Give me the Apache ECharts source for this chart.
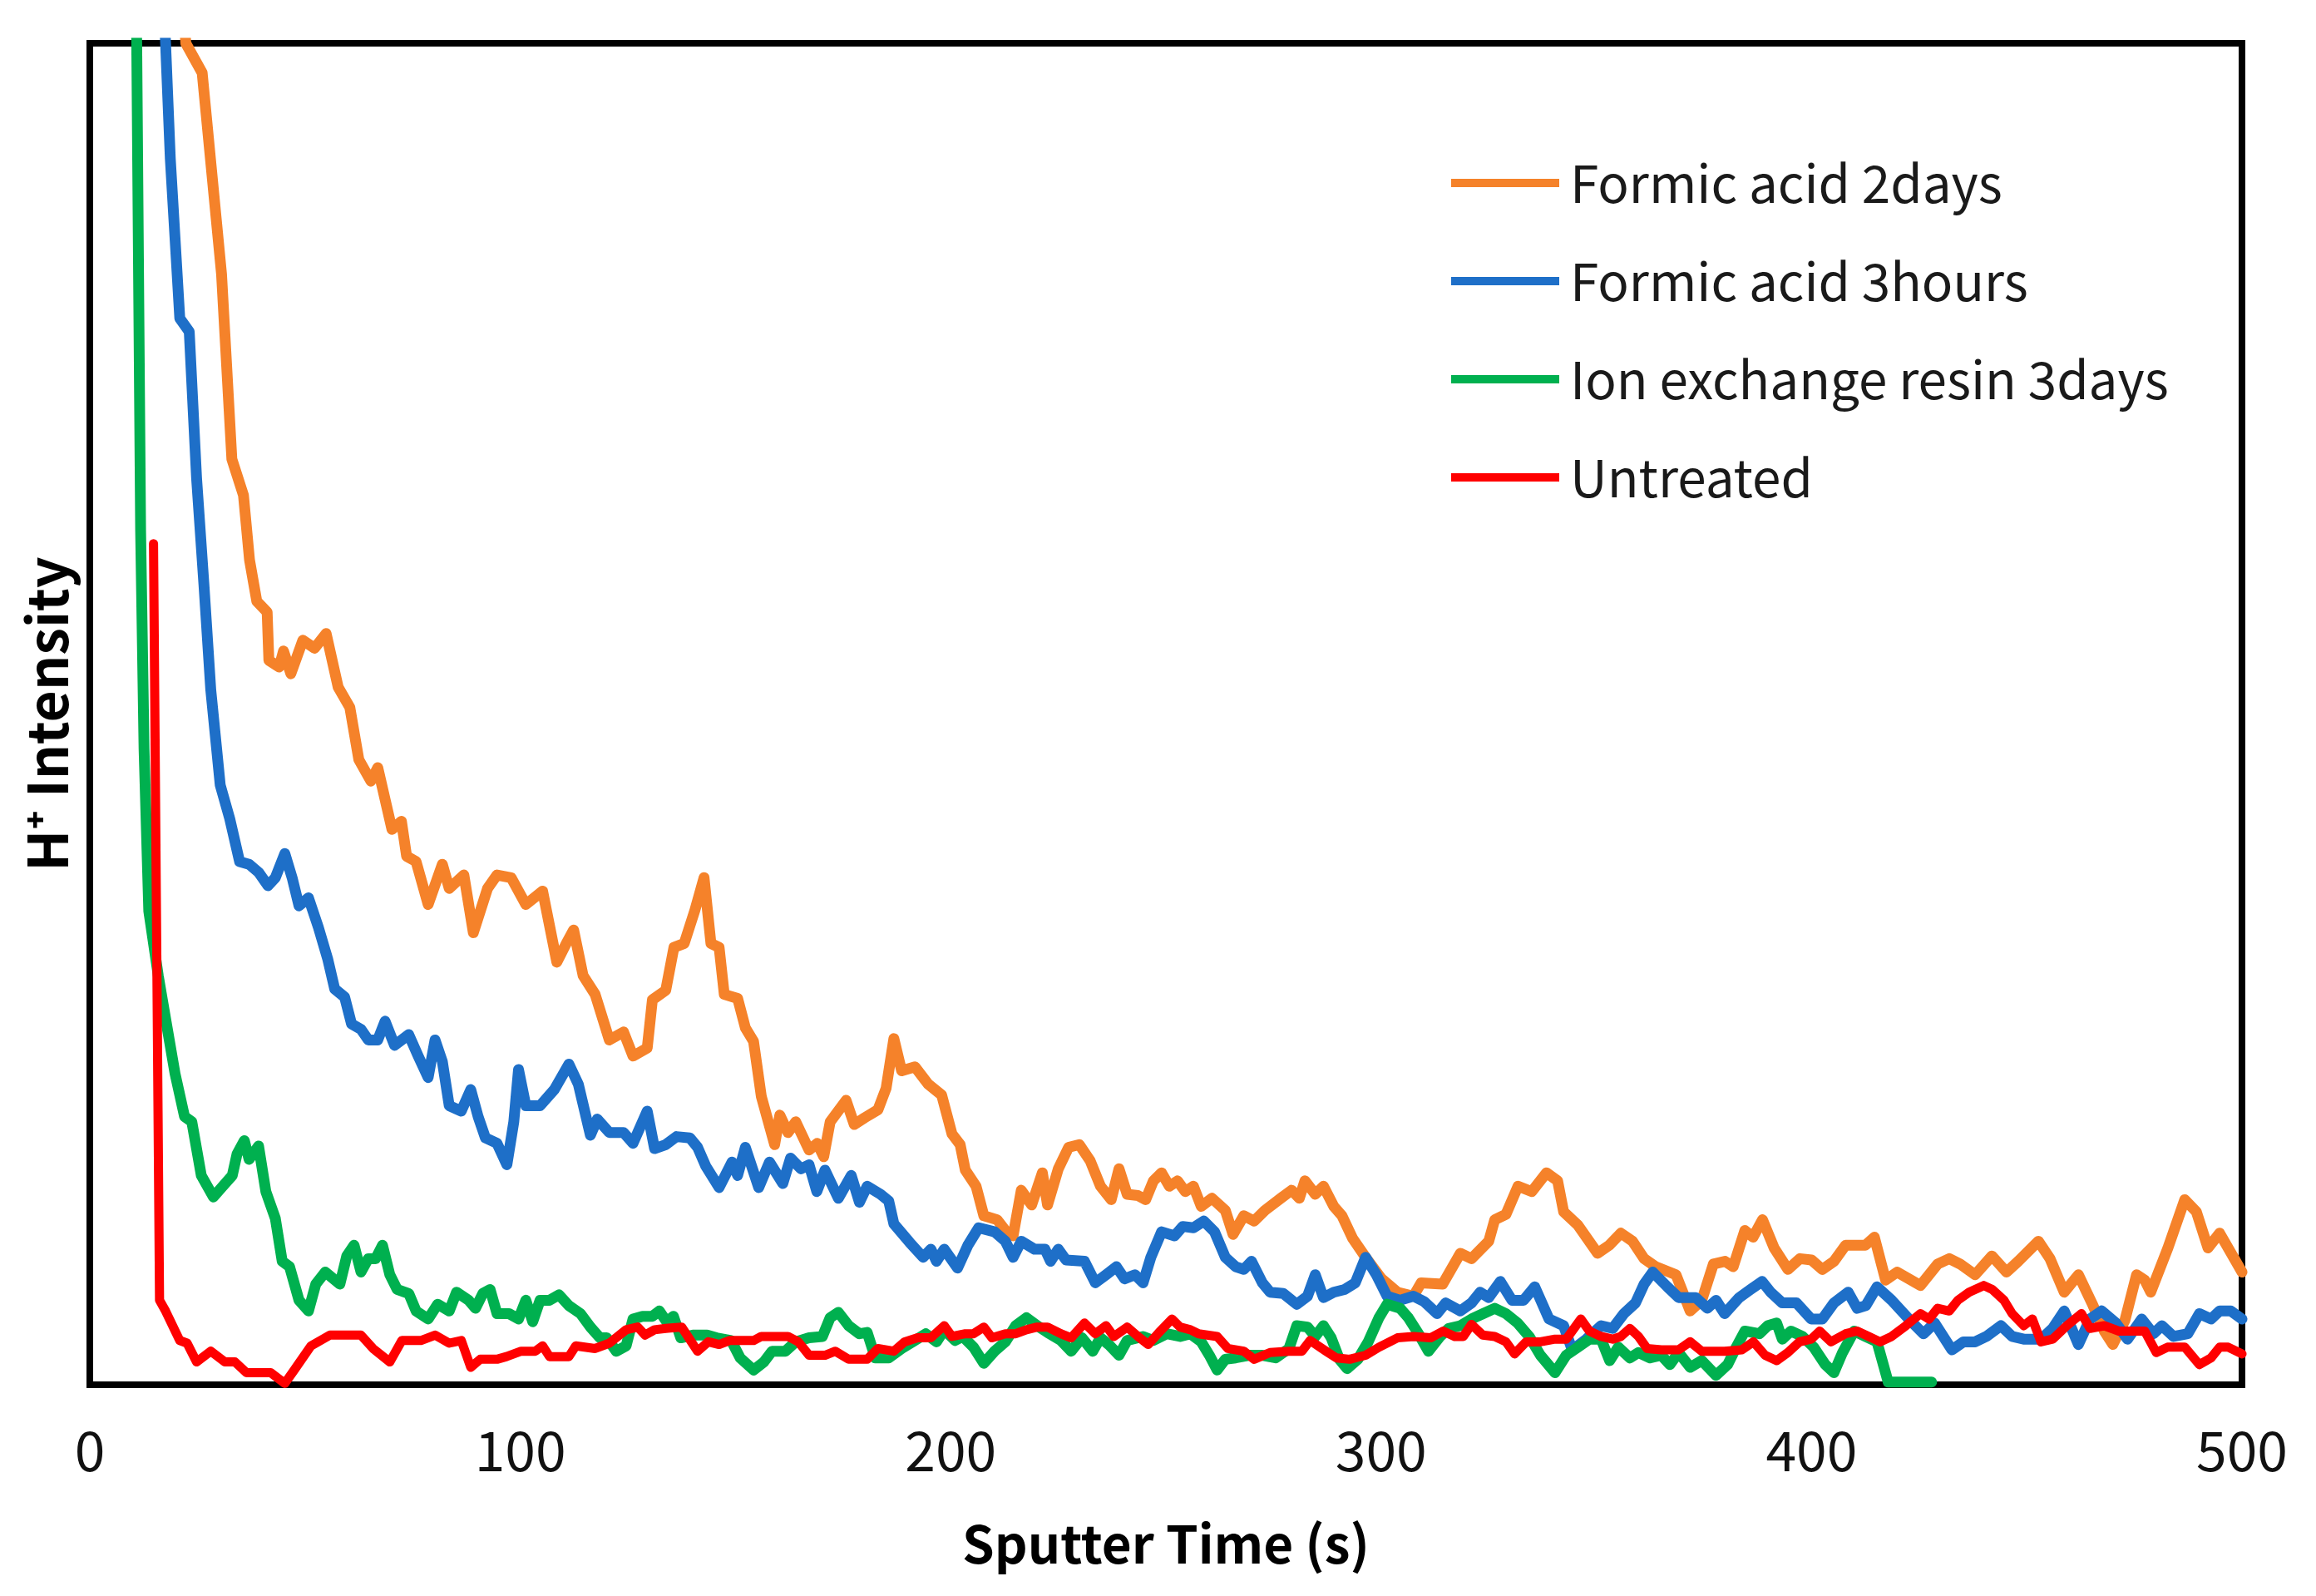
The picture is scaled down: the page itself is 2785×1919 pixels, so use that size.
<!DOCTYPE html>
<html>
<head>
<meta charset="utf-8">
<script src="https://cdn.jsdelivr.net/npm/echarts@6/dist/echarts.min.js"></script>
<style>
html,body{margin:0;padding:0;background:#fff;}
#chart{width:2785px;height:1919px;}
</style>
</head>
<body>
<div id="chart"></div>
<script>
// ---- Data (y is relative intensity, 0-100 of the plotted range) ----
const seriesNames = ['Formic acid 2days', 'Formic acid 3hours', 'Ion exchange resin 3days', 'Untreated'];
const xTickLabels = ['0', '100', '200', '300', '400', '500'];

const fa2dTime = [20,22.3,26.1,30.6,33.0,35.7,37.1,38.8,41.2,41.6,44.0,45.0,46.7,49.5,52.2,54.9,57.7,60.4,62.5,65.3,66.9,70.2,72.4,73.6,75.8,78.6,81.9,83.5,86.9,89.1,92.4,94.6,97.9,101.3,105.2,108.5,110.7,112.4,114.6,117.4,120.7,124.0,126.2,129.5,130.7,133.8,135.7,138.1,140.6,142.7,144.3,146.2,147.4,150.5,152.3,154.2,156.0,159.1,160.3,162.2,164.0,167.1,169.0,170.5,172.0,175.7,177.6,180.0,183.1,185.0,186.8,188.6,191.7,194.8,197.9,200.3,202.2,203.4,205.9,207.7,210.8,212.7,214.5,216.4,218.8,221.3,222.5,225.0,227.4,229.9,232.4,234.8,237.3,239.1,241.0,243.5,245.3,247.1,249.0,250.8,252.7,254.5,256.4,258.2,260.7,263.8,265.6,268.1,270.5,273.0,276.7,279.2,281.0,282.3,284.7,286.6,289.0,290.9,293.4,296.4,300.1,303.8,307.5,309.3,314.3,318.4,321.0,325.0,326.4,329.0,331.8,335.0,338.4,341.0,342.4,345.7,350.3,353.0,355.7,358.4,361.1,363.8,368.5,371.8,374.5,377.2,379.9,381.8,384.5,386.4,388.6,391.3,394.5,397.3,400.0,402.5,405.2,407.9,412.5,414.6,417.2,419.9,425.3,429.3,432.0,434.5,438.0,441.9,445.3,448.0,452.7,455.4,458.7,462.0,465.4,468.0,470.0,472.8,475.5,477.4,478.8,482.8,486.7,489.4,492.1,494.8,497.5,500];
const fa2dIntensity = [112,100,97.8,82.8,69.0,66.3,61.5,58.4,57.6,54.0,53.5,54.7,53.0,55.5,54.9,56.0,52.0,50.5,46.6,45.0,46.0,41.4,42.0,39.4,39.0,35.8,38.8,37.0,38.0,33.7,37.0,38.0,37.8,35.8,36.8,31.5,32.9,33.9,30.5,29.1,25.7,26.3,24.5,25.1,28.7,29.4,32.6,32.9,35.4,37.8,32.9,32.6,29.1,28.8,26.6,25.6,21.5,17.9,20.1,18.8,19.6,17.5,18.0,17.0,19.6,21.2,19.4,19.9,20.5,22.1,25.8,23.4,23.7,22.4,21.6,18.7,17.9,16.0,14.8,12.6,12.3,11.5,11.1,14.5,13.4,15.8,13.4,16.1,17.7,17.9,16.7,14.8,13.8,16.1,14.2,14.1,13.8,15.2,15.8,14.8,15.2,14.4,14.8,13.3,13.9,13.0,11.2,12.6,12.2,13.0,13.9,14.5,13.9,15.2,14.2,14.8,13.3,12.6,10.9,9.5,7.9,6.9,6.6,7.6,7.5,9.8,9.4,10.7,12.3,12.7,14.8,14.4,15.8,15.2,12.9,11.9,9.8,10.4,11.3,10.7,9.4,8.8,8.2,5.5,6.3,9.0,9.2,8.8,11.5,11.0,12.3,10.2,8.6,9.4,9.3,8.6,9.2,10.4,10.4,11.0,7.8,8.4,7.4,9.0,9.4,9.0,8.2,9.6,8.4,9.2,10.7,9.4,6.9,8.2,5.9,4.0,3.0,4.8,8.2,7.8,6.9,10.2,13.8,12.9,10.2,11.3,9.8,8.4];

const fa3hTime = [16,17.6,18.7,20.9,23.1,24.8,26.5,28.1,30.3,32.5,34.8,37.0,39.2,41.4,43.1,45.3,47.0,48.6,50.8,53.1,55.3,56.9,59.2,60.8,63.0,64.7,66.9,68.6,70.8,74.1,76.3,78.6,80.2,81.9,83.5,86.3,88.5,90.2,91.9,94.6,96.9,98.5,99.6,101.3,104.6,107.9,111.3,113.5,116.3,117.9,120.7,124.0,126.2,129.5,131.2,133.8,136.3,139.4,141.2,143.1,146.2,149.2,150.5,152.3,155.4,157.9,161.0,162.8,165.2,167.1,168.9,170.8,173.9,176.9,178.8,180.6,183.7,185.6,186.8,190.5,193.6,195.4,196.7,198.5,201.6,204.0,206.5,210.2,212.7,214.5,216.4,219.5,221.9,223.2,225.0,226.8,231.1,233.6,236.1,238.5,240.4,242.8,244.7,246.5,249.0,252.0,253.9,256.4,258.8,261.3,263.8,266.2,268.1,269.9,272.4,274.2,277.3,280.4,282.9,284.7,286.6,289.0,291.5,294.0,296.4,298.9,301.4,304.4,307.5,310.0,313.0,315.0,318.4,321.0,323.0,325.0,327.7,330.4,333.1,335.7,339.0,342.4,344.4,347.7,351.1,353.8,356.4,359.1,361.1,363.1,366.5,369.1,373.1,375.8,377.8,379.8,383.2,385.8,388.5,390.5,393.2,396.5,399.9,402.5,405.2,408.5,410.6,412.6,415.2,418.6,422.6,426.0,428.6,432.6,435.3,438.0,440.6,444.0,446.6,449.3,453.3,456.0,458.7,462.0,464.7,467.4,470.7,473.4,476.7,479.4,481.4,484.1,487.4,490.1,492.8,494.8,497.4,500];
const fa3hIntensity = [112,100,91.4,79.5,78.5,67.6,59.7,51.8,44.7,42.2,39.0,38.8,38.2,37.2,37.8,39.6,37.8,35.7,36.3,34.1,31.7,29.5,28.9,26.9,26.5,25.7,25.7,27.1,25.3,26.1,24.5,22.9,25.7,24.1,20.8,20.4,22.0,20.0,18.4,18.0,16.4,19.6,23.5,20.8,20.8,22.0,23.9,22.4,18.6,19.8,18.8,18.8,18.0,20.4,17.6,17.9,18.5,18.4,17.7,16.3,14.7,16.6,15.6,17.7,14.7,16.6,15.0,16.9,16.1,16.4,14.4,16.0,13.9,15.6,13.6,14.8,14.2,13.7,12.0,10.6,9.5,10.1,9.2,10.1,8.7,10.4,11.7,11.4,10.7,9.5,10.7,10.1,10.1,9.2,10.1,9.3,9.2,7.6,8.2,8.8,7.9,8.2,7.6,9.5,11.4,11.1,11.8,11.7,12.2,11.4,9.5,8.8,8.6,9.2,7.6,6.9,6.8,6.0,6.6,8.2,6.5,6.9,7.1,7.6,9.5,8.2,6.6,6.3,6.6,6.2,5.3,6.1,5.5,6.1,6.9,6.5,7.7,6.3,6.3,7.3,4.9,4.4,2.6,3.4,4.4,4.2,5.3,6.1,7.5,8.4,7.3,6.5,6.5,5.7,6.3,5.3,6.5,7.1,7.7,6.9,6.1,6.1,4.9,4.9,6.1,6.9,5.7,5.9,7.3,6.3,4.9,3.8,4.6,2.6,3.2,3.2,3.6,4.4,3.6,3.4,3.4,4.2,5.5,3.0,4.9,5.5,4.6,3.4,4.9,3.8,4.4,3.6,3.8,5.3,4.9,5.5,5.5,4.9];

const ionTime = [10,10.9,11.8,12.6,13.7,15.9,17.6,19.8,22.0,23.7,25.9,28.7,30.9,33.1,34.2,35.9,37.0,39.2,40.9,43.1,44.7,46.4,48.6,50.8,52.5,54.7,58.1,59.7,61.4,63.0,64.7,66.4,68.0,69.7,71.4,74.1,75.8,78.6,80.8,83.5,85.2,88.0,89.6,91.3,93.0,94.6,97.4,99.6,101.3,102.9,104.6,106.8,109.0,111.3,114.0,116.3,118.5,120.1,122.3,124.6,126.2,128.4,130.7,132.3,134.0,135.6,137.3,140.1,143.4,145.6,149.0,151.1,154.2,156.6,158.5,161.6,164.0,167.1,170.2,172.0,173.9,176.3,178.8,180.6,182.5,185.6,188.6,191.7,194.2,196.7,198.5,201.0,202.8,205.3,207.7,210.2,212.7,215.1,217.6,220.1,222.5,225.6,228.0,230.5,233.0,234.8,236.7,239.1,241.0,244.7,247.1,250.2,253.3,255.7,258.2,260.1,261.9,263.8,266.2,269.3,272.4,275.5,278.6,280.4,282.9,284.7,286.6,288.4,290.3,292.1,294.6,297.0,299.5,301.4,304.4,306.3,308.7,311.0,313.7,315.7,318.4,321.0,323.7,326.4,329.0,331.7,334.4,337.0,340.4,343.0,345.7,348.4,351.1,353.1,355.1,357.8,359.8,362.5,365.1,367.1,369.1,371.8,374.5,377.8,380.5,382.5,384.5,387.9,389.8,391.9,393.2,395.2,397.9,400.5,403.2,405.2,407.2,409.9,412.5,415.2,417.8,427.9];
const ionIntensity = [120,100,63.7,47.4,35.3,30.5,27.3,23.2,20.0,19.6,15.6,14.0,14.8,15.6,17.2,18.2,16.8,17.8,14.4,12.4,9.2,8.8,6.3,5.5,7.5,8.4,7.5,9.6,10.4,8.4,9.4,9.4,10.4,8.2,7.1,6.8,5.5,4.9,6.0,5.5,6.9,6.3,5.7,6.8,7.1,5.3,5.3,4.9,6.3,4.7,6.3,6.3,6.7,5.9,5.3,4.3,3.5,3.5,2.5,2.9,4.9,5.1,5.1,5.5,4.7,5.1,3.5,3.7,3.7,3.5,3.3,2.0,1.1,1.7,2.5,2.5,3.2,3.5,3.6,5.0,5.4,4.4,3.8,3.9,2.0,2.0,2.7,3.3,3.8,3.2,4.1,3.3,3.6,2.8,1.6,2.5,3.2,4.4,5.0,4.4,3.9,3.3,2.5,3.5,2.5,3.5,3.0,2.2,3.3,3.6,3.3,3.8,3.6,3.8,3.2,2.2,1.1,1.9,2.0,2.2,2.2,2.0,2.7,4.4,4.3,3.6,4.4,3.5,1.9,1.2,1.9,3.2,5.0,6.0,5.7,5.0,3.8,2.5,3.6,4.2,4.4,4.9,5.3,5.7,5.3,4.6,3.6,2.2,0.9,2.2,2.8,3.4,3.4,1.8,2.8,2.0,2.4,2.0,2.2,1.5,2.4,1.3,1.8,0.7,1.5,2.8,4.0,3.8,4.4,4.6,3.4,4.0,3.6,2.8,1.5,0.9,2.4,4.0,3.6,3.2,0.2,0.2];

const untreatedTime = [14.8,16.2,17.6,20.9,22.6,24.8,28.1,31.4,33.7,36.4,42.0,45.3,47.5,51.4,55.8,63.0,65.8,69.7,72.5,76.9,80.2,83.5,86.3,88.5,90.7,94.6,96.8,100.2,103.5,105.2,106.8,111.3,112.9,117.4,120.7,124.6,127.3,129.0,131.2,133.8,137.5,141.2,143.7,146.2,148.6,154.2,156.0,162.2,164.6,167.1,170.8,173.2,176.3,180.6,183.1,186.8,189.3,192.3,195.4,198.5,200.3,203.4,205.3,207.7,209.6,212.7,215.1,217.6,220.1,222.5,225.6,228.0,231.1,233.6,236.1,237.9,241.0,243.5,245.9,248.4,251.4,253.3,255.7,257.6,261.9,264.4,268.1,270.5,274.2,278.6,281.6,283.5,287.2,289.6,292.7,296.4,299.5,303.8,307.5,311.5,314.4,317.1,319.1,321.0,323.6,326.4,329.0,331.0,333.7,337.0,340.4,343.0,346.4,348.4,351.1,353.8,355.7,357.8,359.8,361.8,365.1,369.1,371.8,374.5,379.8,383.8,386.5,389.2,391.9,394.5,397.2,399.9,401.9,404.5,407.9,410.6,413.3,415.9,418.6,421.9,425.3,427.3,429.3,432.0,434.0,436.6,440.0,442.0,444.7,446.6,449.3,451.3,453.3,456.0,459.3,462.7,464.7,468.0,471.4,474.7,477.4,480.1,482.7,486.7,490.1,492.8,494.8,496.8,500];
const untreatedIntensity = [62.7,6.3,5.5,3.3,3.1,1.7,2.5,1.7,1.7,0.9,0.9,0.1,1.1,2.9,3.7,3.7,2.7,1.7,3.3,3.3,3.7,3.1,3.3,1.3,1.9,1.9,2.1,2.5,2.5,2.9,2.1,2.1,2.9,2.7,3.1,4.1,4.3,3.7,4.1,4.2,4.3,2.5,3.2,3.0,3.3,3.3,3.6,3.6,3.2,2.2,2.2,2.5,1.9,1.9,2.7,2.5,3.2,3.5,3.5,4.4,3.6,3.8,3.8,4.3,3.5,3.8,3.8,4.1,4.3,4.3,3.8,3.5,4.6,3.8,4.4,3.6,4.3,3.6,3.0,3.9,4.9,4.3,4.1,3.8,3.6,2.7,2.5,1.9,2.4,2.5,2.5,3.3,2.5,2.0,1.9,2.2,2.8,3.5,3.6,3.5,4.0,3.6,3.6,4.5,3.7,3.6,3.2,2.3,3.2,3.2,3.4,3.4,4.9,4.0,3.6,3.4,3.6,4.2,3.6,2.7,2.6,2.6,3.2,2.5,2.5,2.6,3.2,2.2,1.8,2.4,3.2,3.4,4.0,3.2,3.8,4.0,3.6,3.2,3.6,4.4,5.3,4.9,5.7,5.5,6.3,6.9,7.4,7.1,6.3,5.3,4.4,4.9,3.2,3.4,4.4,5.3,4.2,4.4,4.0,4.0,4.0,2.4,2.8,2.8,1.5,2.0,2.8,2.8,2.3];

const seriesColors = ['#F5822A', '#1E6FC8', '#00B04F', '#FF0000'];

function pairs(t, v) { return t.map((x, i) => [x, v[i]]); }

const chart = echarts.init(document.getElementById('chart'), null, { renderer: 'canvas', width: 2785, height: 1919 });
const FONT = '"Noto Sans CJK JP", "Noto Sans", sans-serif';

const dataSets = [
  pairs(fa2dTime, fa2dIntensity),
  pairs(fa3hTime, fa3hIntensity),
  pairs(ionTime, ionIntensity),
  pairs(untreatedTime, untreatedIntensity)
];
const widths = [13, 13, 13, 11];

chart.setOption({
  animation: false,
  backgroundColor: '#ffffff',
  grid: {
    left: 108, right: 89, top: 52, bottom: 254,
    show: true, borderColor: '#000', borderWidth: 8, backgroundColor: 'transparent'
  },
  legend: {
    data: seriesNames,
    orient: 'vertical',
    left: 1745, top: 185,
    padding: 0,
    itemWidth: 130, itemHeight: 10,
    itemGap: 48,
    icon: 'rect',
    textStyle: { fontFamily: FONT, fontSize: 62, color: '#1a1a1a', lineHeight: 70, padding: [0, 0, 0, 8] }
  },
  xAxis: {
    type: 'value', min: 0, max: 500, interval: 100,
    name: 'Sputter Time (s)', nameLocation: 'middle', nameGap: 160,
    nameTextStyle: { fontFamily: FONT, fontSize: 62, fontWeight: 'bold', color: '#000' },
    axisLine: { show: true, lineStyle: { color: '#000', width: 8 } },
    axisTick: { show: false },
    splitLine: { show: false },
    axisLabel: {
      fontFamily: FONT, fontSize: 66, color: '#111', margin: 46,
      formatter: function (v) { return xTickLabels[Math.round(v / 100)]; }
    }
  },
  yAxis: {
    type: 'value', min: 0, max: 100,
    name: 'H\u207A Intensity', nameLocation: 'middle', nameGap: 18, nameRotate: 90,
    nameTextStyle: { fontFamily: FONT, fontSize: 66, fontWeight: 'bold', color: '#000' },
    axisLine: { show: true, lineStyle: { color: '#000', width: 8 } },
    axisTick: { show: false },
    axisLabel: { show: false },
    splitLine: { show: false }
  },
  series: seriesNames.map((n, i) => ({
    name: n, type: 'line', data: dataSets[i],
    showSymbol: false, symbol: 'none', clip: true,
    color: seriesColors[i],
    lineStyle: { color: seriesColors[i], width: widths[i], join: 'round', cap: 'round' },
    z: 2 + i
  }))
});
</script>
</body>
</html>
